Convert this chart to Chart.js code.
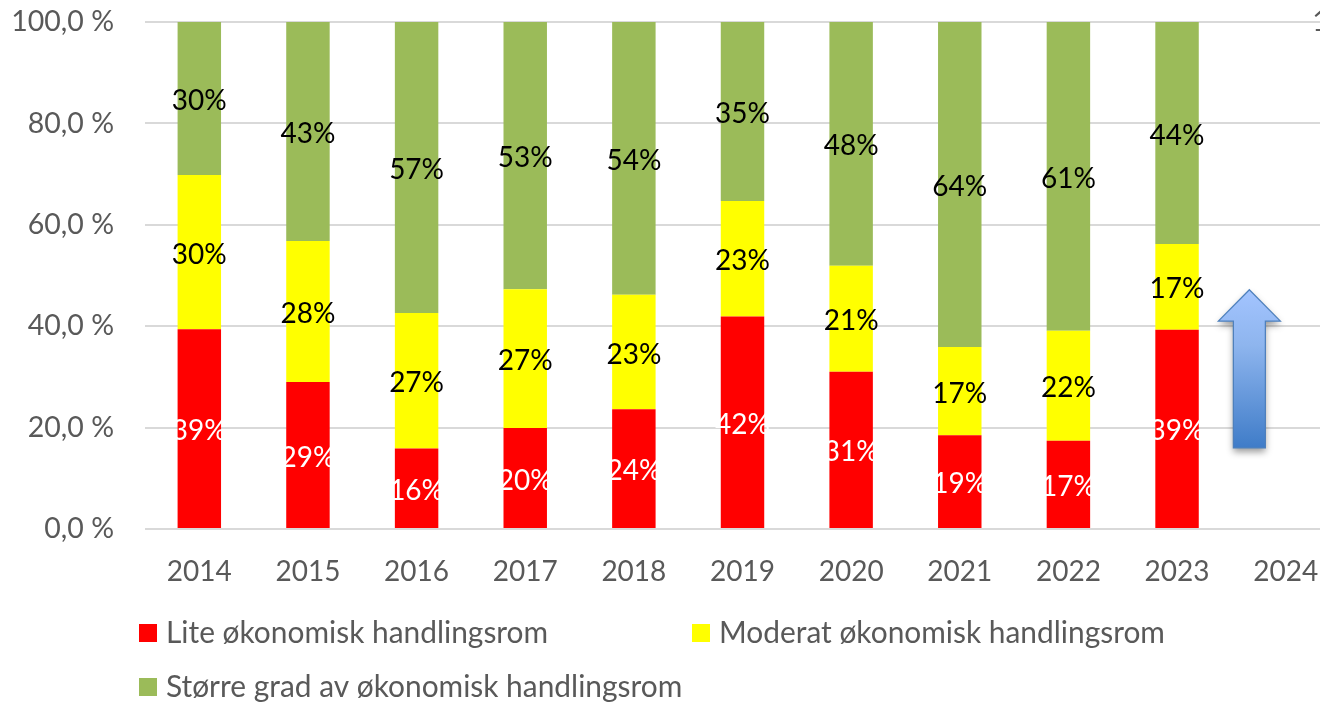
<!DOCTYPE html>
<html>
<head>
<meta charset="utf-8">
<style>
  html, body { margin: 0; padding: 0; background: #fff; overflow: hidden; }
  #wrap { width: 1320px; height: 704px; overflow: hidden; }
  canvas { display: block; }
</style>
<script src="https://cdn.jsdelivr.net/npm/chart.js@4/dist/chart.umd.min.js"></script>
</head>
<body>
<div id="wrap"><canvas id="myChart" width="1440" height="704"></canvas></div>
<script>
var years = ["2014","2015","2016","2017","2018","2019","2020","2021","2022","2023","2024"];
var seriesNames = ["Lite økonomisk handlingsrom", "Moderat økonomisk handlingsrom", "Større grad av økonomisk handlingsrom"];
var lite = [39.4,29.0,15.9,19.9,23.6,41.9,31.0,18.5,17.4,39.3,null];
var moderat = [30.4,27.8,26.7,27.4,22.6,22.8,20.9,17.4,21.7,16.9,null];
var storre = [30.2,43.2,57.4,52.7,53.8,35.3,48.1,64.1,60.9,43.8,null];
var seriesColors = ["#ff0000", "#ffff00", "#9bbb59"];
var labelColors = ["#ffffff", "#000000", "#000000"];

var fontName = "Lato, 'Noto Sans', sans-serif";
var gridColor = "#d9d9d9";
var textColor = "#595959";

// the values on top of the bars, no datalabels lib available
var barLabels = {
  id: "barLabels",
  afterDatasetsDraw: function(chart){
    var ctx = chart.ctx;
    ctx.save();
    ctx.font = "28px " + fontName;
    ctx.textAlign = "center";
    ctx.textBaseline = "middle";
    chart.data.datasets.forEach(function(ds, i){
      chart.getDatasetMeta(i).data.forEach(function(bar, j){
        if (ds.data[j] === null) return;
        ctx.fillStyle = labelColors[i];
        ctx.fillText(Math.round(ds.data[j]) + "%", bar.x, (bar.y + bar.base) / 2 + 2.5);
      });
    });
    ctx.restore();
  }
};

// legend sits on two rows with a wide gap, the built in one can't do that
var legendRows = [[139, 633], [692, 633], [139, 687]];
var sideLegend = {
  id: "sideLegend",
  afterDraw: function(chart){
    var ctx = chart.ctx;
    ctx.save();
    ctx.font = "29.9px " + fontName;
    ctx.textBaseline = "middle";
    chart.data.datasets.forEach(function(ds, i){
      var pos = legendRows[i];
      ctx.fillStyle = ds.backgroundColor;
      ctx.fillRect(pos[0], pos[1] - 9, 18, 18);
      ctx.fillStyle = textColor;
      ctx.fillText(ds.label, pos[0] + 27, pos[1]);
    });
    ctx.restore();
  }
};

// the up arrow next to 2023
var upArrow = {
  id: "upArrow",
  afterDraw: function(chart){
    var ctx = chart.ctx;
    var y = chart.scales.y;
    var x = chart.scales.x;
    var cx = (x.getPixelForValue(9) + x.getPixelForValue(10)) / 2 + 18;
    var tip = y.getPixelForValue(47.2);
    var wing = y.getPixelForValue(41);
    var tail = y.getPixelForValue(16);
    var grad = ctx.createLinearGradient(0, tip, 0, tail);
    grad.addColorStop(0, "#a3c4ff");
    grad.addColorStop(0.35, "#8eb5ee");
    grad.addColorStop(1, "#3f7cc8");
    ctx.save();
    ctx.beginPath();
    ctx.moveTo(cx, tip);
    ctx.lineTo(cx + 31, wing);
    ctx.lineTo(cx + 16, wing);
    ctx.lineTo(cx + 16, tail);
    ctx.lineTo(cx - 16, tail);
    ctx.lineTo(cx - 16, wing);
    ctx.lineTo(cx - 31, wing);
    ctx.closePath();
    ctx.shadowColor = "rgba(0,0,0,0.4)";
    ctx.shadowBlur = 7;
    ctx.shadowOffsetY = 4;
    ctx.fillStyle = grad;
    ctx.fill();
    ctx.shadowColor = "transparent";
    ctx.strokeStyle = "#4f81bd";
    ctx.lineWidth = 1.25;
    ctx.stroke();
    ctx.restore();
  }
};

var pctTick = function(value){
  return value.toFixed(1).replace(".", ",") + " %";
};

var ctx = document.getElementById("myChart").getContext("2d");
var myChart = new Chart(ctx, {
  type: "bar",
  data: {
    labels: years,
    datasets: [
      { label: seriesNames[0], data: lite, backgroundColor: seriesColors[0] },
      { label: seriesNames[1], data: moderat, backgroundColor: seriesColors[1] },
      { label: seriesNames[2], data: storre, backgroundColor: seriesColors[2] }
    ]
  },
  options: {
    responsive: false,
    animation: false,
    layout: { padding: { top: 22 } },
    plugins: { legend: { display: false }, tooltip: { enabled: false } },
    datasets: { bar: { categoryPercentage: 1, barPercentage: 0.4 } },
    scales: {
      x: {
        stacked: true,
        afterFit: function(axis){ axis.height = 175; },
        grid: { display: false },
        border: { display: false },
        ticks: { color: textColor, font: { family: fontName, size: 28 }, padding: 18, maxRotation: 0, autoSkip: false }
      },
      y: {
        stacked: true,
        min: 0,
        max: 100,
        afterFit: function(axis){ axis.width = 145; axis.paddingTop = 0; axis.paddingBottom = 0; },
        grid: { color: gridColor, lineWidth: 2, drawTicks: false },
        border: { display: false },
        ticks: { stepSize: 20, color: textColor, font: { family: fontName, size: 28.5 }, padding: 31, callback: pctTick }
      },
      // second axis, runs out of the picture so only the first digit shows
      // mirror because normal labels get clipped to the axis box
      y2: {
        display: true,
        position: "right",
        min: 0,
        max: 100,
        afterFit: function(axis){ axis.width = 100; axis.paddingTop = 0; axis.paddingBottom = 0; },
        grid: { display: false, drawTicks: false },
        border: { display: false },
        ticks: { stepSize: 20, color: textColor, mirror: true, font: { family: fontName, size: 28.5 }, padding: 75, callback: pctTick }
      }
    }
  },
  plugins: [barLabels, sideLegend, upArrow]
});
</script>
</body>
</html>
